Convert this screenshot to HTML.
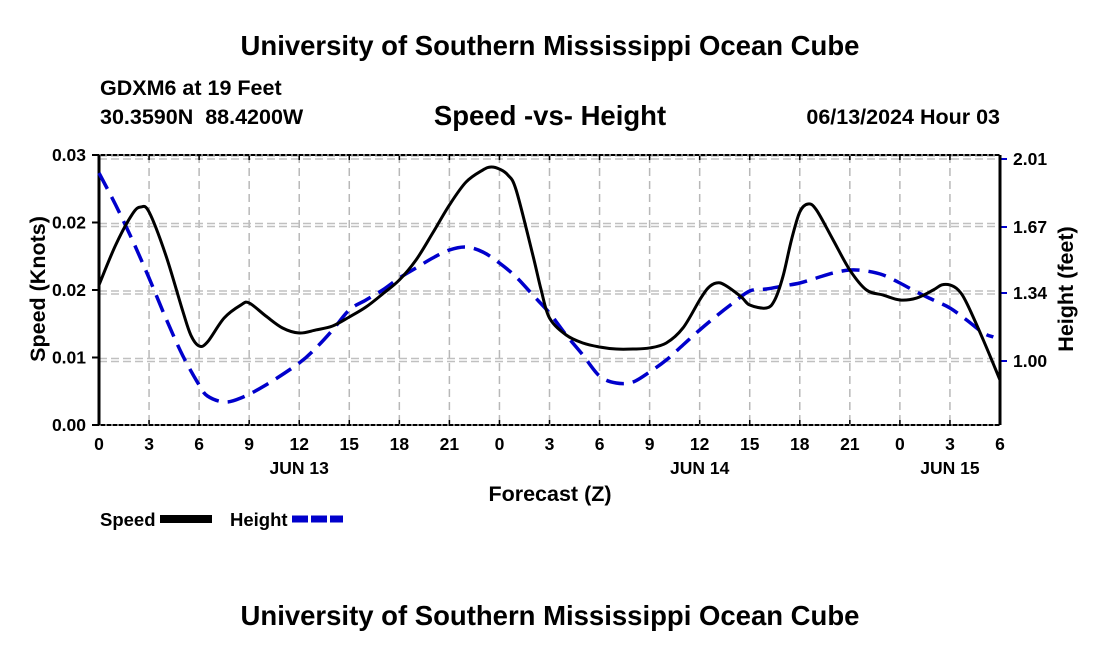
<!DOCTYPE html>
<html><head><meta charset="utf-8"><style>
body{margin:0;background:#fff;}
svg{display:block;font-family:"Liberation Sans",Arial,sans-serif;font-weight:bold;}
</style></head><body>
<svg id="chart" width="1100" height="650" viewBox="0 0 1100 650">
<text x="550" y="55" text-anchor="middle" font-size="27.5">University of Southern Mississippi Ocean Cube</text>
<text x="100" y="95" font-size="21.5">GDXM6 at 19 Feet</text>
<text x="100" y="124" font-size="21.5" xml:space="preserve">30.3590N  88.4200W</text>
<text x="550" y="125" text-anchor="middle" font-size="27.5">Speed -vs- Height</text>
<text x="1000" y="124" text-anchor="end" font-size="21.5">06/13/2024 Hour 03</text>
<g id="grid"></g>
<g id="axes"></g>
<g id="series"></g>
<text x="550" y="501" text-anchor="middle" font-size="21.5">Forecast (Z)</text>
<text transform="translate(45,289) rotate(-90)" text-anchor="middle" font-size="21.5">Speed (Knots)</text>
<text transform="translate(1073,289) rotate(-90)" text-anchor="middle" font-size="21.5">Height (feet)</text>
<g>
<text x="100" y="526" font-size="18.5">Speed</text>
<rect x="160" y="515" width="52" height="8" fill="#000"/>
<text x="230" y="526" font-size="18.5">Height</text>
<line x1="292" y1="519" x2="343" y2="519" stroke="#0000cc" stroke-width="7" stroke-dasharray="16,3"/>
</g>
<text x="550" y="625" text-anchor="middle" font-size="27.5">University of Southern Mississippi Ocean Cube</text>
</svg>
<script>
const xTickLabels=["0","3","6","9","12","15","18","21","0","3","6","9","12","15","18","21","0","3","6"];
const dayLabels=["JUN 13","JUN 14","JUN 15"];
const dayLabelHours=[12,36,51];
const leftTickValues=[0,0.0075,0.015,0.0225,0.03];
const leftTickLabels=["0.00","0.01","0.02","0.02","0.03"];
const rightTickValues=[1.00,1.34,1.67,2.01];
const rightTickLabels=["1.00","1.34","1.67","2.01"];
const speedHours=[0,1,2,2.5,3,4,5,5.5,6,6.5,7.5,8.5,9,10,11,12,13,14,15,16,17,18,19,20,21,22,23,23.5,24,24.5,25,26,26.5,27,28,29,30,31,32,33,34,35,36,36.5,37,37.5,38.5,39,40,40.5,41,41.5,42,42.5,43,44,45,46,47,48,49,50,50.5,51,51.5,52,53,54];
const speedValues=[0.01556,0.02,0.02344,0.02422,0.02367,0.01889,0.01278,0.01,0.00878,0.00922,0.01189,0.01333,0.01356,0.01211,0.01078,0.01022,0.01056,0.011,0.012,0.01311,0.01456,0.01611,0.01833,0.02133,0.02444,0.027,0.02833,0.02867,0.02844,0.02778,0.02611,0.01889,0.015,0.01189,0.01,0.00911,0.00867,0.00844,0.00844,0.00856,0.00911,0.01078,0.01389,0.01522,0.01578,0.01556,0.01422,0.01333,0.013,0.01389,0.01656,0.02056,0.02367,0.02456,0.02389,0.02056,0.01722,0.015,0.01444,0.01389,0.01411,0.015,0.01556,0.01556,0.015,0.01356,0.00944,0.005];
const heightHours=[0,1,2,3,4,5,6,6.5,7.5,8.5,10,12,13,14,15,16,17,18,19,20,21,22,23,24,25,26,27,28,29,30,31,32,33,34,35,36,37,38,39,40,41,42,43,44,45,46,47,48,49,50,51,52,53,53.6];
const heightValues=[1.94,1.78,1.605,1.415,1.215,1.03,0.88,0.825,0.795,0.815,0.88,0.99,1.065,1.155,1.255,1.305,1.355,1.415,1.465,1.515,1.555,1.57,1.545,1.49,1.42,1.33,1.24,1.13,1.03,0.925,0.89,0.895,0.945,1.005,1.08,1.155,1.225,1.29,1.35,1.36,1.375,1.39,1.415,1.44,1.455,1.45,1.43,1.39,1.345,1.305,1.265,1.205,1.14,1.12];

const X0=99,X1=1000,TOP=155,BOT=425;
const xs=h=>X0+(X1-X0)*h/54;
const yL=v=>BOT-(BOT-TOP)*v/0.03;
const yR=v=>361-(v-1)*200;
const NS="http://www.w3.org/2000/svg";
function mk(tag,attrs,parent){const e=document.createElementNS(NS,tag);for(const k in attrs)e.setAttribute(k,attrs[k]);parent.appendChild(e);return e;}
const grid=document.getElementById('grid'),axes=document.getElementById('axes'),series=document.getElementById('series');
xTickLabels.forEach((t,i)=>{const x=xs(i*3);
 if(i>0&&i<18){const l=mk('line',{x1:x,y1:TOP,x2:x,y2:BOT,stroke:'#b8b8b8','stroke-width':1.5,'stroke-dasharray':'8,5'},grid);
 }
 const tk=mk('line',{x1:x,y1:BOT,x2:x,y2:BOT-5,stroke:'#000','stroke-width':1.5},axes);
 
 const tt=mk('line',{x1:x,y1:TOP,x2:x,y2:TOP+5,stroke:'#000','stroke-width':1.5},axes);
 
 const tx=mk('text',{x:x,y:450,'text-anchor':'middle','font-size':17.5},axes);tx.textContent=t;
 });
dayLabels.forEach((d,i)=>{const tx=mk('text',{x:xs(dayLabelHours[i]),y:474,'text-anchor':'middle','font-size':17.5},axes);tx.textContent=d;
 });
leftTickValues.forEach((v,i)=>{const y=yL(v);
 if(i>0){[y+1,y+4].forEach(yy=>{const l=mk('line',{x1:X0,y1:yy,x2:X1,y2:yy,stroke:'#c0c0c0','stroke-width':1.5,'stroke-dasharray':'8,4'},grid);
 });}
 const tk=mk('line',{x1:X0-7,y1:y,x2:X0,y2:y,stroke:'#000','stroke-width':2},axes);
 
 const tx=mk('text',{x:X0-13,y:y+6,'text-anchor':'end','font-size':17.5},axes);tx.textContent=leftTickLabels[i];
 });
rightTickValues.forEach((v,i)=>{const y=yR(v);
 const tk=mk('line',{x1:X1,y1:y,x2:X1+7,y2:y,stroke:'#0000cc','stroke-width':2},axes);
 
 const tx=mk('text',{x:X1+13,y:y+6,'font-size':17.5},axes);tx.textContent=rightTickLabels[i];
 });
[[X0,TOP,X1,TOP],[X0,BOT,X1,BOT]].forEach(a=>{const l=mk('line',{x1:a[0],y1:a[1],x2:a[2],y2:a[3],stroke:'#000','stroke-width':2},axes);
 
 const d=mk('line',{x1:a[0],y1:a[1],x2:a[2],y2:a[3],stroke:'#fff','stroke-width':1,'stroke-dasharray':'2,4'},axes);
 });
[[X0],[X1]].forEach(a=>{const l=mk('line',{x1:a[0],y1:TOP,x2:a[0],y2:BOT,stroke:'#000','stroke-width':3},axes);
 });
function smooth(pts){let d=`M${pts[0][0]},${pts[0][1]}`;
 for(let i=0;i<pts.length-1;i++){const p0=pts[Math.max(i-1,0)],p1=pts[i],p2=pts[i+1],p3=pts[Math.min(i+2,pts.length-1)];
 d+=` C${p1[0]+(p2[0]-p0[0])/6},${p1[1]+(p2[1]-p0[1])/6} ${p2[0]-(p3[0]-p1[0])/6},${p2[1]-(p3[1]-p1[1])/6} ${p2[0]},${p2[1]}`;}return d;}
const hp=mk('path',{d:smooth(heightHours.map((h,i)=>[xs(h),yR(heightValues[i])])),fill:'none',stroke:'#0000cc','stroke-width':3.5,'stroke-dasharray':'18,9'},series);

const sp=mk('path',{d:smooth(speedHours.map((h,i)=>[xs(h),yL(speedValues[i])])),fill:'none',stroke:'#000','stroke-width':3},series);

</script>
</body></html>
